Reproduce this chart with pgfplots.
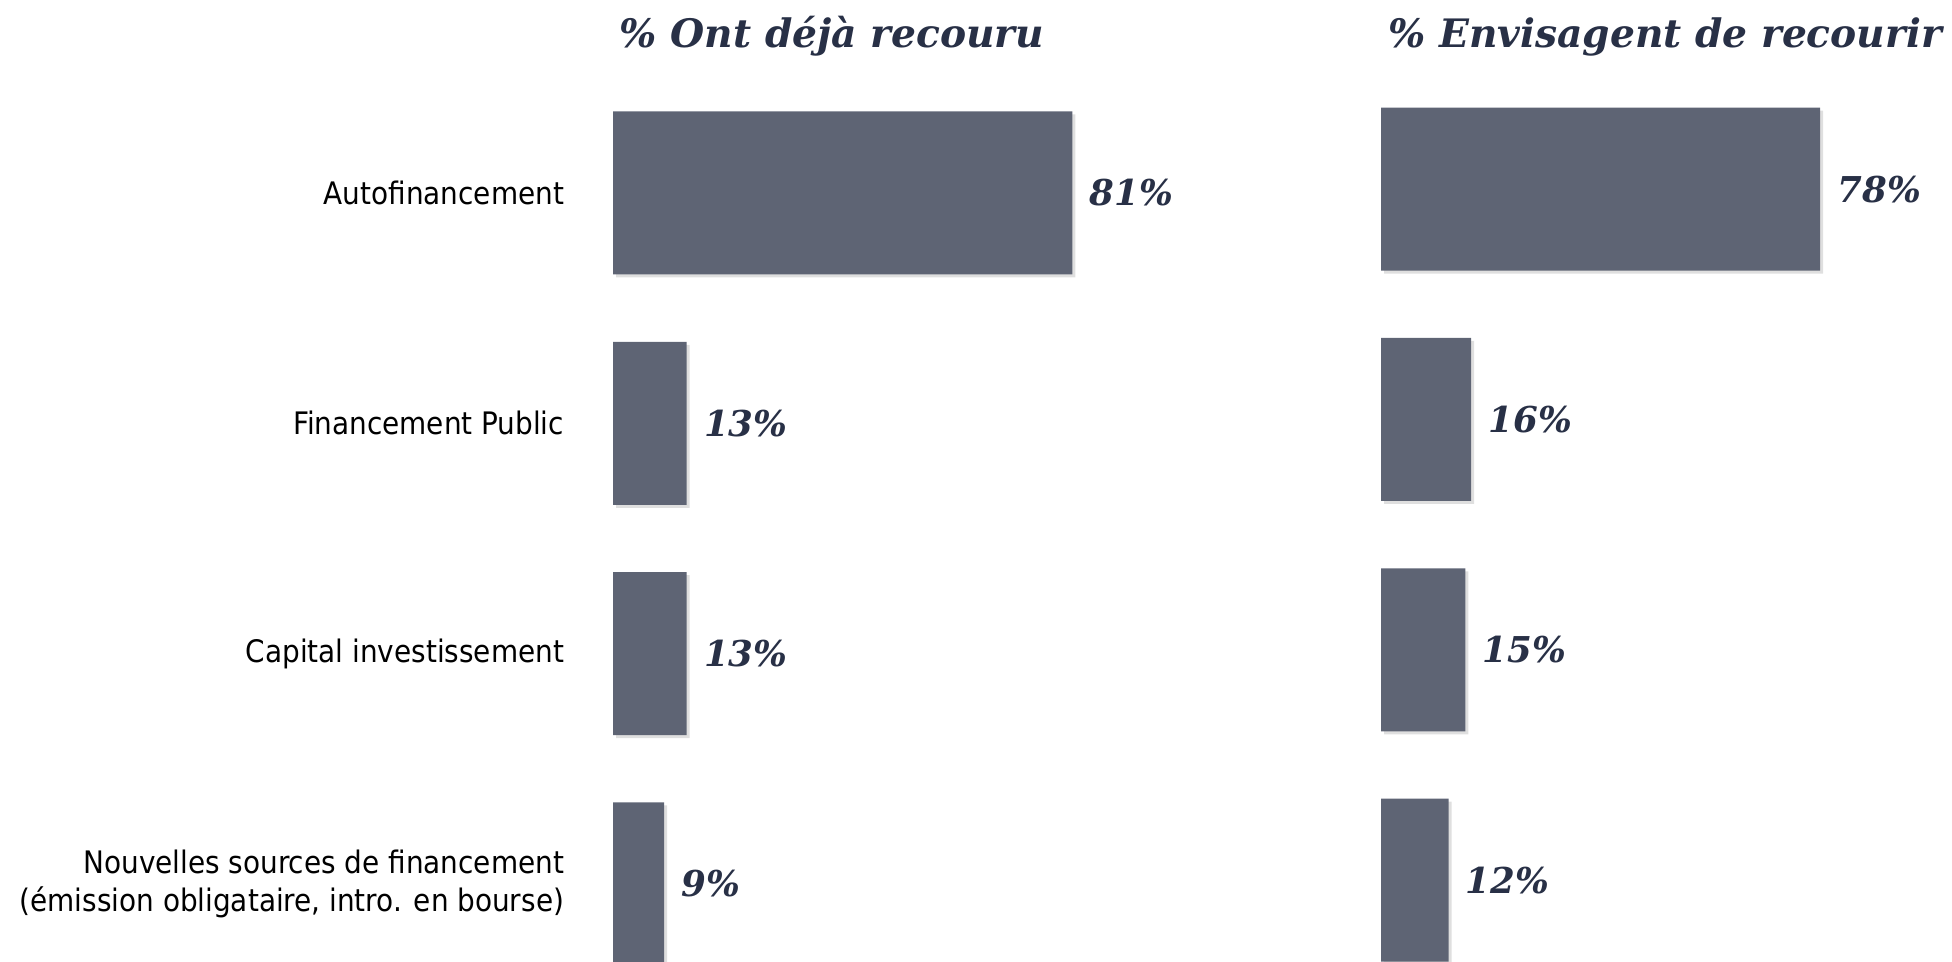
\documentclass[border=0pt]{standalone}
\usepackage{pgfplots}
\pgfplotsset{compat=1.18}
\usepackage{fontspec}
\setmainfont{DejaVu Sans}
\newfontfamily\labelfont{DejaVu Sans Condensed}
\newfontfamily\serifb{DejaVu Serif}
\definecolor{barcol}{RGB}{94,100,116}
\definecolor{navy}{RGB}{40,48,70}
\usetikzlibrary{shadows}
\begin{document}
\begin{tikzpicture}
\path[use as bounding box] (0,0) rectangle (976pt,481pt);
\pgfplotsset{
  panel/.style={
    scale only axis, xbar, y dir=reverse,
    height=460.6pt, xmin=0, xmax=100, ymin=-0.5, ymax=3.5,
    bar width=81.5pt,
    axis line style={draw=none}, tick style={draw=none},
    xtick=\empty,
    point meta=x,
    /pgf/number format/assume math mode=true,
    nodes near coords={\pgfmathprintnumber{\pgfplotspointmeta}\%},
    nodes near coords style={anchor=west, inner sep=0pt, xshift=8.5pt,
      font=\serifb\bfseries\itshape\fontsize{17.8pt}{20pt}\selectfont, text=navy},
    clip=false,
  }
}
\begin{axis}[panel, at={(306.5pt,-18.5pt)}, anchor=south west, width=283.5pt,
  ytick={0,1,2,3},
  yticklabels={Autofinancement, Financement Public, Capital investissement, {Nouvelles sources de financement\\(émission obligataire, intro. en bourse)}},
  yticklabel style={align=right, anchor=east, inner sep=0pt, xshift=-20pt,
    font=\labelfont\fontsize{15.5pt}{19.3pt}\selectfont, text=black},
]
\addplot[fill=barcol, draw=none, drop shadow={shadow xshift=1.5pt, shadow yshift=-1.5pt, opacity=0.25}] coordinates {(81,0) (13,1) (13,2) (9,3)};
\end{axis}
\begin{axis}[panel, at={(690.5pt,-16.6pt)}, anchor=south west, width=281.5pt,
  ytick=\empty,
]
\addplot[fill=barcol, draw=none, drop shadow={shadow xshift=1.5pt, shadow yshift=-1.5pt, opacity=0.25}] coordinates {(78,0) (16,1) (15,2) (12,3)};
\end{axis}
\node[anchor=base, text=navy, font=\serifb\bfseries\itshape\fontsize{19.6pt}{24pt}\selectfont] at (416pt,457pt) {\% Ont déjà recouru};
\node[anchor=base west, inner sep=0pt, text=navy, font=\serifb\bfseries\itshape\fontsize{19.6pt}{24pt}\selectfont] at (694pt,457pt) {\% Envisagent de recourir};
\end{tikzpicture}
\end{document}
